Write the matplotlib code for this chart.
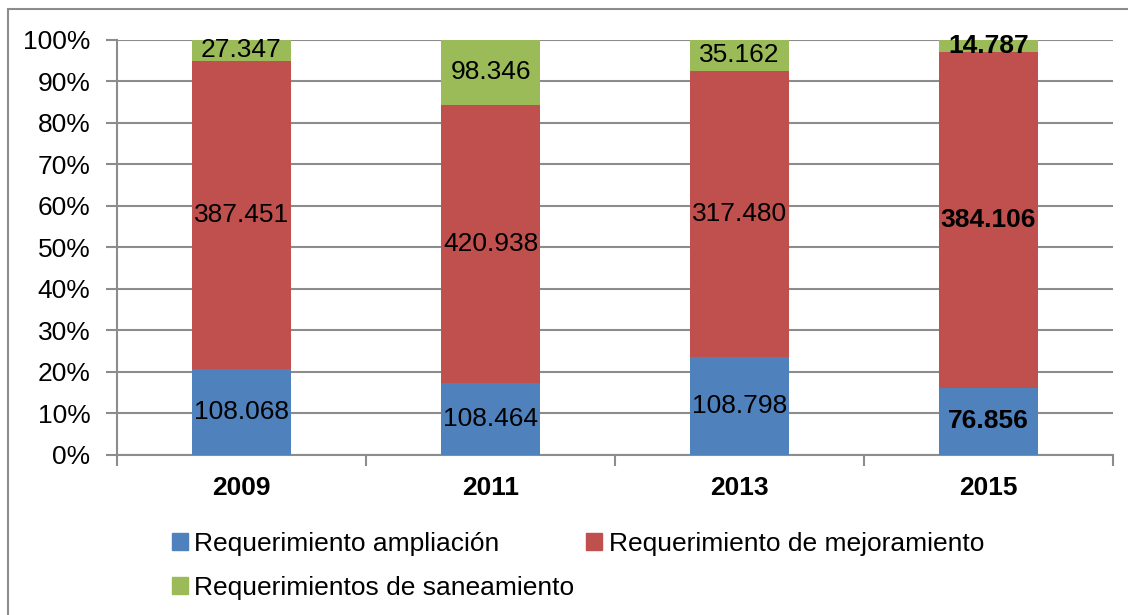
import numpy as np
from matplotlib import pyplot as plt
from matplotlib.patches import Patch, Rectangle

plt.rcParams['font.family'] = ['Liberation Sans', 'DejaVu Sans']

years = ['2009', '2011', '2013', '2015']
ampliacion = np.array([108068, 108464, 108798, 76856])
mejoramiento = np.array([387451, 420938, 317480, 384106])
saneamiento = np.array([27347, 98346, 35162, 14787])
series_names = ['Requerimiento ampliación', 'Requerimiento de mejoramiento',
                'Requerimientos de saneamiento']
colors = ['#4F81BD', '#C0504D', '#9BBB59']
bold_year = '2015'

total = ampliacion + mejoramiento + saneamiento
shares = [ampliacion / total, mejoramiento / total, saneamiento / total]
raw = [ampliacion, mejoramiento, saneamiento]


def fmt(v):
    return f'{v:,}'.replace(',', '.')


fs = 19
fig = plt.figure(figsize=(11.28, 6.15), dpi=100)
ax = fig.add_axes([117 / 1128, 1 - 455 / 615, (1113 - 117) / 1128, (455 - 39.5) / 615])

x = np.arange(len(years))
bottom = np.zeros(len(years))
for s, r, c in zip(shares, raw, colors):
    ax.bar(x, s, 0.4, bottom=bottom, color=c, zorder=3)
    for i in range(len(years)):
        w = 'bold' if years[i] == bold_year else 'normal'
        ax.text(x[i], bottom[i] + s[i] / 2, fmt(int(r[i])), ha='center', va='center',
                fontsize=fs, fontweight=w, zorder=4)
    bottom += s

grid_c = '#8c8c8c'
ax.set_xlim(-0.5, len(years) - 0.5)
ax.set_ylim(0, 1)
ax.set_yticks(np.arange(0, 1.01, 0.1))
ax.set_yticklabels([f'{int(round(v * 100))}%' for v in np.arange(0, 1.01, 0.1)], fontsize=fs)
ax.yaxis.grid(True, color=grid_c, linewidth=1.5, zorder=0)
ax.set_xticks(np.arange(-0.5, len(years), 1.0))
ax.set_xticklabels([])
ax.set_xticks(x, minor=True)
ax.set_xticklabels(years, minor=True, fontsize=fs, fontweight='bold')
ax.tick_params(axis='x', which='minor', length=0, pad=15)
ax.tick_params(axis='x', which='major', length=8, width=1.5, color=grid_c)
ax.tick_params(axis='y', length=8, width=1.5, color=grid_c, pad=11)
for sp in ['top', 'right']:
    ax.spines[sp].set_visible(False)
for sp in ['left', 'bottom']:
    ax.spines[sp].set_color(grid_c)
    ax.spines[sp].set_linewidth(1.5)

handles = [Patch(color=colors[0]), Patch(color=colors[2]), Patch(color=colors[1])]
labels = [series_names[0], series_names[2], series_names[1]]
fig.legend(handles, labels, ncol=2, loc='upper left', bbox_to_anchor=(172 / 1128, 1 - 532 / 615),
           frameon=False, fontsize=fs, handlelength=0.6, handleheight=0.6,
           handletextpad=0.25, columnspacing=0.45, labelspacing=0.75, borderpad=0,
           borderaxespad=0)

fig.patches.append(Rectangle((8 / 1128, -0.1), 2, 1.1 - 9 / 615, transform=fig.transFigure,
                             fill=False, edgecolor=grid_c, linewidth=1.5))

fig.savefig('out.png', dpi=100)
